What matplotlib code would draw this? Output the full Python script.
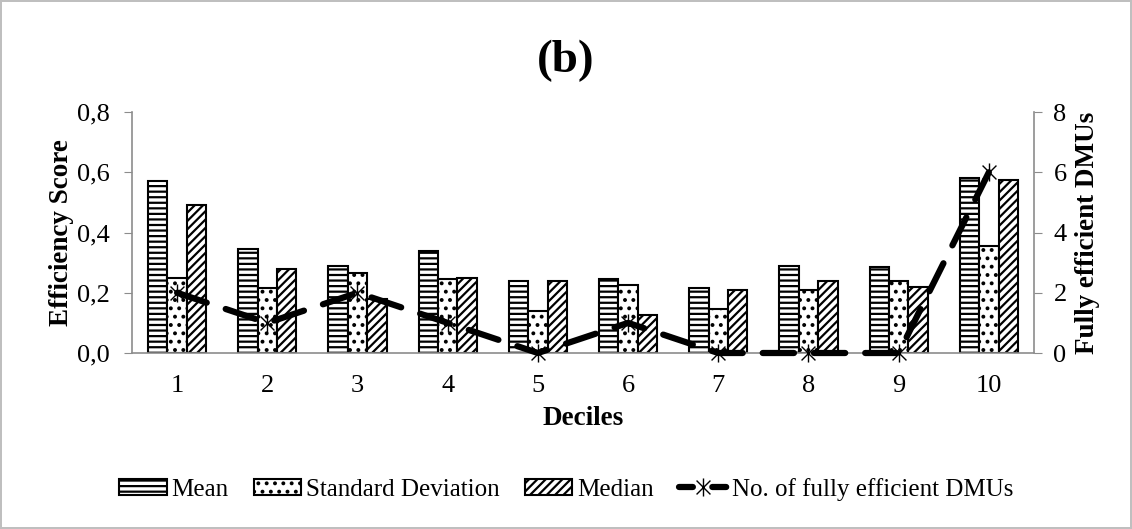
import numpy as np
import matplotlib.pyplot as plt
from matplotlib.path import Path
from matplotlib.lines import Line2D

plt.rcParams['font.family'] = ['Liberation Serif', 'DejaVu Serif']
plt.rcParams['hatch.linewidth'] = 1.6

deciles = ['1', '2', '3', '4', '5', '6', '7', '8', '9', '10']
mean_vals = [0.57, 0.345, 0.29, 0.34, 0.24, 0.245, 0.215, 0.29, 0.285, 0.58]
sd_vals = [0.25, 0.215, 0.265, 0.245, 0.14, 0.225, 0.145, 0.21, 0.24, 0.355]
median_vals = [0.49, 0.28, 0.18, 0.25, 0.24, 0.125, 0.21, 0.24, 0.22, 0.575]
n_efficient = [2, 1, 2, 1, 0, 1, 0, 0, 0, 6]

# asterisk marker like Excel's star (x plus vertical line)
star = Path([(-1, -1), (1, 1), (-1, 1), (1, -1), (0, -1.3), (0, 1.3)],
            [Path.MOVETO, Path.LINETO, Path.MOVETO, Path.LINETO, Path.MOVETO, Path.LINETO])

fig = plt.figure(figsize=(11.32, 5.29), dpi=100)
fig.patch.set_edgecolor('#bfbfbf')
fig.patch.set_linewidth(1.5)
ax = fig.add_axes([0.1166, 0.3327, 0.7968, 0.4555])

x = np.arange(len(deciles))
w = 0.215
ax.bar(x - w, mean_vals, w, color='white', edgecolor='black', hatch='---', linewidth=1.5, label='Mean')
ax.bar(x, sd_vals, w, color='white', edgecolor='black', hatch='..', linewidth=1.5, label='Standard Deviation')
ax.bar(x + w, median_vals, w, color='white', edgecolor='black', hatch='////', linewidth=1.5, label='Median')

ax.set_xlim(-0.5, len(deciles) - 0.5)
ax.set_ylim(0, 0.8)
ax.set_yticks([0, 0.2, 0.4, 0.6, 0.8])
ax.set_yticklabels(['0,0', '0,2', '0,4', '0,6', '0,8'])
ax.set_xticks(x)
ax.set_xticklabels(deciles)
ax.tick_params(axis='x', length=0, labelsize=19, pad=16)
ax.tick_params(axis='y', length=6, color='#8c8c8c', labelsize=19, direction='out', pad=10)
for s in ['top', 'right']:
    ax.spines[s].set_visible(False)
for s in ['left', 'bottom']:
    ax.spines[s].set_color('#8c8c8c')
    ax.spines[s].set_linewidth(1.2)
ax.set_xlabel('Deciles', fontsize=19.5, fontweight='bold', labelpad=6)
ax.set_ylabel('Efficiency Score', fontsize=19.5, fontweight='bold', labelpad=2)

ax2 = ax.twinx()
ax2.plot(x, n_efficient, color='black', linewidth=4.5, linestyle=(0, (5, 3.2)),
         dash_capstyle='round', marker=star, markersize=13, markeredgewidth=1.0,
         markeredgecolor='black', clip_on=False)
ax2.set_ylim(0, 8)
ax2.set_yticks([0, 2, 4, 6, 8])
ax2.tick_params(axis='y', length=6, color='#8c8c8c', labelsize=19, direction='out', pad=8)
for s in ['top', 'left', 'bottom']:
    ax2.spines[s].set_visible(False)
ax2.spines['right'].set_color('#8c8c8c')
ax2.spines['right'].set_linewidth(1.2)
ax2.set_ylabel('Fully efficient DMUs', fontsize=19.5, fontweight='bold', labelpad=6)

fig.text(0.5, 0.885, '(b)', ha='center', va='center', fontsize=34, fontweight='bold')

# legend entry for the line: dash, star, dash
line_handle = Line2D([], [], color='black', linewidth=4.5, linestyle=(0, (2.22, 3.11)),
                     dash_capstyle='round', marker=star, markersize=13,
                     markeredgewidth=1.0, markeredgecolor='black')
h1, l1 = ax.get_legend_handles_labels()
fig.legend(h1 + [line_handle], l1 + ['No. of fully efficient DMUs'], loc='center',
           bbox_to_anchor=(0.5, 0.075), ncol=4, frameon=False, fontsize=18,
           handlelength=1.9, handleheight=0.6, handletextpad=0.2, columnspacing=1.0)

fig.savefig('out.png', dpi=100)
